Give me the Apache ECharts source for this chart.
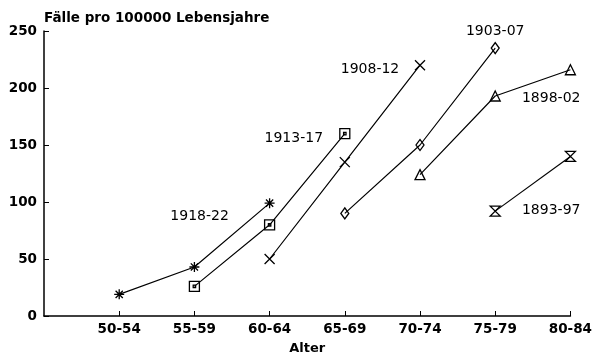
<!DOCTYPE html>
<html><head><meta charset="utf-8">
<script src="https://cdn.jsdelivr.net/npm/echarts@6/dist/echarts.min.js"></script>
<style>html,body{margin:0;padding:0;background:#fff}#c{width:595px;height:360px}</style>
</head><body><div id="c"></div>
<script>
const ageGroups = ['', '50-54', '55-59', '60-64', '65-69', '70-74', '75-79', '80-84'];
const yTicks = [0, 50, 100, 150, 200, 250];
const cohortNames = ['1918-22', '1913-17', '1908-12', '1903-07', '1898-02', '1893-97'];
const c1918 = [null, 19, 43, 99, null, null, null, null];
const c1913 = [null, null, 26, 80, 160, null, null, null];
const c1908 = [null, null, null, 50, 135, 220, null, null];
const c1903 = [null, null, null, null, 90, 150, 235, null];
const c1898 = [null, null, null, null, null, 124, 193, 216];
const c1893 = [null, null, null, null, null, null, 92, 140];
// label anchor index and offset for each cohort's text
const labelAt = [3, 4, 5, 6, 6, 6];
const labelOffset = [[-70, 13], [-51, 5], [-50, 4], [0, -17], [56, 2], [56, -1]];
const symbols = [
  'path://M0,-5L0,5M-5,0L5,0M-3.6,-3.6L3.6,3.6M-3.6,3.6L3.6,-3.6',
  'path://M-5,-5L5,-5L5,5L-5,5ZM-1.2,-1.2L1.2,-1.2L1.2,1.2L-1.2,1.2Z',
  'path://M-5,-5L5,5M-5,5L5,-5',
  'path://M0,-6L4,0L0,6L-4,0Z',
  'path://M0,-5L5,4L-5,4Z',
  'path://M-5,-5L5,-5L-5,5L5,5Z'
];
const seriesData = [c1918, c1913, c1908, c1903, c1898, c1893];

const font = 'DejaVu Sans';
const series = seriesData.map((arr, i) => ({
  type: 'line',
  name: cohortNames[i],
  data: arr.map((v, j) => {
    if (v === null) return null;
    if (j === labelAt[i]) {
      return {
        value: v,
        label: {
          show: true, position: 'inside', offset: labelOffset[i],
          formatter: cohortNames[i], color: '#000',
          fontFamily: font, fontSize: 14
        }
      };
    }
    return v;
  }),
  connectNulls: false,
  symbol: symbols[i],
  symbolSize: i === 3 ? [8, 11] : 10,
  showAllSymbol: true,
  lineStyle: { color: '#000', width: 1.2 },
  itemStyle: { color: 'rgba(0,0,0,0)', borderColor: '#000', borderWidth: 1.3 },
  emphasis: { disabled: true },
  animation: false,
  z: 3
}));

const chart = echarts.init(document.getElementById('c'), null, { renderer: 'canvas' });
chart.setOption({
  backgroundColor: '#fff',
  animation: false,
  title: {
    text: 'Fälle pro 100000 Lebensjahre',
    left: 39, top: 6,
    textStyle: { fontFamily: font, fontSize: 13.5, fontWeight: 'bold', color: '#000' }
  },
  grid: { left: 44, right: 24, top: 31, bottom: 41, containLabel: false },
  xAxis: {
    type: 'category',
    data: ageGroups,
    boundaryGap: false,
    name: 'Alter',
    nameLocation: 'middle',
    nameGap: 26,
    nameTextStyle: { fontFamily: font, fontSize: 13, fontWeight: 'bold', color: '#000' },
    axisLine: { lineStyle: { color: '#000', width: 1.5 } },
    axisTick: { inside: true, length: 5, lineStyle: { color: '#000' },
      interval: (idx) => idx > 0 },
    axisLabel: { color: '#000', fontFamily: font, fontSize: 13.5, fontWeight: 'bold', margin: 6, interval: 0 },
    splitLine: { show: false }
  },
  yAxis: {
    type: 'value',
    min: 0, max: 250, interval: 50,
    axisLine: { show: true, lineStyle: { color: '#000', width: 1.5 } },
    axisTick: { show: true, inside: true, length: 5, lineStyle: { color: '#000' } },
    axisLabel: { color: '#000', fontFamily: font, fontSize: 13.5, fontWeight: 'bold', margin: 7,
      formatter: (v) => yTicks.includes(v) ? String(v) : '' },
    splitLine: { show: false }
  },
  series: series
});
</script>
</body></html>
